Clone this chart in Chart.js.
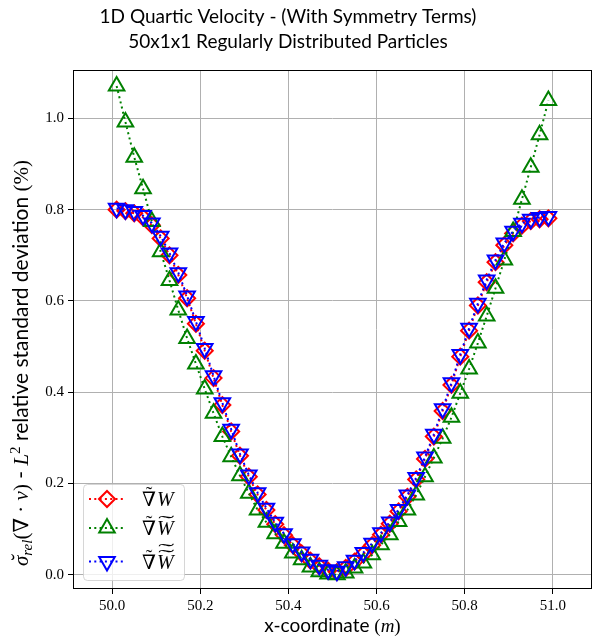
<!DOCTYPE html>
<html>
<head>
<meta charset="utf-8">
<script src="https://cdn.jsdelivr.net/npm/chart.js@4.4.1/dist/chart.umd.min.js"></script>
<style>
  html, body { margin: 0; padding: 0; background: #fff; }
</style>
</head>
<body>
<canvas id="chart" width="603" height="643"></canvas>
<script>
const titleLines = ['1D Quartic Velocity - (With Symmetry Terms)', '50x1x1 Regularly Distributed Particles'];
const legendLabels = ['\u2207\u0303W', '\u2207\u0303W\u0303', '\u2207\u0303W\u0303\u0303'];

const xTicks = [50.0, 50.2, 50.4, 50.6, 50.8, 51.0];
const yTicks = [0.0, 0.2, 0.4, 0.6, 0.8, 1.0];

const xCoords = [
    50.01, 50.03, 50.05, 50.07, 50.09, 50.11, 50.13, 50.15, 50.17, 50.19,
    50.21, 50.23, 50.25, 50.27, 50.29, 50.31, 50.33, 50.35, 50.37, 50.39,
    50.41, 50.43, 50.45, 50.47, 50.49, 50.51, 50.53, 50.55, 50.57, 50.59,
    50.61, 50.63, 50.65, 50.67, 50.69, 50.71, 50.73, 50.75, 50.77, 50.79,
    50.81, 50.83, 50.85, 50.87, 50.89, 50.91, 50.93, 50.95, 50.97, 50.99
];

// red diamonds
const devGradW = [
    0.800, 0.797, 0.792, 0.783, 0.766, 0.737, 0.700, 0.657, 0.606, 0.550,
    0.491, 0.431, 0.372, 0.314, 0.261, 0.215, 0.176, 0.142, 0.111, 0.087,
    0.065, 0.047, 0.031, 0.019, 0.009, 0.006, 0.015, 0.029, 0.045, 0.065,
    0.088, 0.112, 0.139, 0.171, 0.209, 0.254, 0.303, 0.359, 0.416, 0.478,
    0.535, 0.590, 0.641, 0.685, 0.722, 0.748, 0.765, 0.775, 0.779, 0.781
];

// green up triangles
const devGradWW = [
    1.071, 0.992, 0.915, 0.846, 0.774, 0.708, 0.645, 0.580, 0.518, 0.462,
    0.407, 0.354, 0.303, 0.259, 0.217, 0.179, 0.142, 0.115, 0.090, 0.069,
    0.048, 0.033, 0.017, 0.007, 0.002, 0.000, 0.004, 0.015, 0.026, 0.044,
    0.066, 0.088, 0.117, 0.142, 0.175, 0.215, 0.256, 0.299, 0.345, 0.398,
    0.451, 0.508, 0.567, 0.628, 0.690, 0.752, 0.823, 0.893, 0.964, 1.039
];

// blue down triangles
const devGradWWW = [
    0.803, 0.800, 0.796, 0.787, 0.771, 0.742, 0.705, 0.662, 0.611, 0.555,
    0.496, 0.436, 0.377, 0.319, 0.265, 0.219, 0.180, 0.146, 0.115, 0.090,
    0.068, 0.050, 0.034, 0.021, 0.011, 0.008, 0.018, 0.032, 0.049, 0.069,
    0.092, 0.116, 0.143, 0.175, 0.213, 0.258, 0.308, 0.364, 0.421, 0.483,
    0.540, 0.595, 0.646, 0.690, 0.727, 0.753, 0.770, 0.779, 0.783, 0.785
];

const serif = '"Liberation Serif", "DejaVu Serif", serif';
const sans = 'Lato, "DejaVu Sans", sans-serif';
const dots = [2, 3.3];

const seriesStyles = [
    { color: '#ff0000', style: 'rectRot', radius: 8, rotation: 0 },
    { color: '#008000', style: 'triangle', radius: 9, rotation: 0 },
    { color: '#0000ff', style: 'triangle', radius: 9, rotation: 180 }
];

function points(ys) {
    return xCoords.map((x, i) => ({ x: x, y: ys[i] }));
}

function runsWidth(ctx, runs) {
    let w = 0;
    runs.forEach(r => { ctx.font = r.f; w += ctx.measureText(r.t).width; });
    return w;
}

function drawRuns(ctx, runs, x, y) {
    let cx = x;
    runs.forEach(r => {
        ctx.font = r.f;
        const w = ctx.measureText(r.t).width;
        ctx.fillText(r.t, cx, y + (r.dy || 0));
        if (r.accent) {
            ctx.textAlign = 'center';
            ctx.fillText(r.accent, cx + w / 2 + 2, y + (r.dy || 0) - 2);
            ctx.textAlign = 'left';
        }
        cx += w;
    });
}

function drawMarker(ctx, s, x, y) {
    ctx.beginPath();
    if (s.style === 'rectRot') {
        ctx.moveTo(x - s.radius, y);
        ctx.lineTo(x, y - s.radius);
        ctx.lineTo(x + s.radius, y);
        ctx.lineTo(x, y + s.radius);
    } else {
        let rad = s.rotation * Math.PI / 180;
        for (let k = 0; k < 3; k++) {
            const px = x + Math.sin(rad) * s.radius;
            const py = y - Math.cos(rad) * s.radius;
            if (k === 0) ctx.moveTo(px, py); else ctx.lineTo(px, py);
            rad += 2 * Math.PI / 3;
        }
    }
    ctx.closePath();
    ctx.stroke();
}

const overlay = {
    id: 'overlay',
    afterDatasetsDraw(chart) {
        const ctx = chart.ctx;
        const a = chart.chartArea;
        ctx.save();

        // frame
        ctx.strokeStyle = '#000';
        ctx.lineWidth = 1;
        ctx.setLineDash([]);
        ctx.strokeRect(Math.round(a.left) + 0.5, Math.round(a.top) + 0.5,
            Math.round(a.right - a.left) - 1, Math.round(a.bottom - a.top) - 1);

        // legend
        const bx = a.left + 10, by = a.bottom - 105, bw = 101, bh = 96;
        ctx.beginPath();
        if (ctx.roundRect) ctx.roundRect(bx + 0.5, by + 0.5, bw, bh, 4); else ctx.rect(bx + 0.5, by + 0.5, bw, bh);
        ctx.fillStyle = 'rgba(255,255,255,0.8)';
        ctx.fill();
        ctx.strokeStyle = 'rgba(204,204,204,0.8)';
        ctx.lineWidth = 1;
        ctx.stroke();

        const rows = [by + 15, by + 44, by + 77.5];
        seriesStyles.forEach((s, i) => {
            const ry = rows[i];
            ctx.strokeStyle = s.color;
            ctx.lineWidth = 2;
            ctx.setLineDash(dots);
            ctx.beginPath();
            ctx.moveTo(bx + 6, ry);
            ctx.lineTo(bx + 40, ry);
            ctx.stroke();
            ctx.setLineDash([]);
            drawMarker(ctx, s, bx + 24, ry);

            // label: nabla with tilde, W with 0..2 wide tildes
            ctx.fillStyle = '#000';
            ctx.textBaseline = 'alphabetic';
            const lx = bx + 59, base = ry + 7;
            ctx.font = `20px ${serif}`;
            const nw = ctx.measureText('\u2207').width;
            ctx.fillText('\u2207', lx, base);
            ctx.font = `italic 20px ${serif}`;
            ctx.fillText('W', lx + nw + 1, base);
            const ww = ctx.measureText('W').width;
            ctx.font = `20px ${serif}`;
            ctx.textAlign = 'center';
            ctx.fillText('\u02dc', lx + nw / 2, base - 5);
            for (let k = 0; k < i; k++) {
                ctx.save();
                ctx.translate(lx + nw + 2 + ww / 2, base - 5 - k * 6);
                ctx.scale(2.4, 1);
                ctx.fillText('\u02dc', 0, 0);
                ctx.restore();
            }
            ctx.textAlign = 'left';
        });

        // x axis title
        ctx.fillStyle = '#000';
        ctx.textBaseline = 'alphabetic';
        const xRuns = [
            { t: 'x-coordinate ', f: `19px ${sans}` },
            { t: '(', f: `19px ${serif}` },
            { t: 'm', f: `italic 19px ${serif}` },
            { t: ')', f: `19px ${serif}` }
        ];
        const xw = runsWidth(ctx, xRuns);
        drawRuns(ctx, xRuns, (a.left + a.right) / 2 - xw / 2, 632);

        // y axis title
        const yRuns = [
            { t: '\u03c3', f: `italic 21px ${serif}`, accent: '\u02d8' },
            { t: 'rel', f: `italic 15px ${serif}`, dy: 4 },
            { t: '(\u2207 \u00b7 ', f: `21px ${serif}` },
            { t: 'v', f: `italic 21px ${serif}` },
            { t: ')', f: `21px ${serif}` },
            { t: ' - ', f: `21px ${sans}` },
            { t: 'L', f: `italic 21px ${serif}` },
            { t: '2', f: `15px ${serif}`, dy: -8 },
            { t: ' relative standard deviation ', f: `21px ${sans}` },
            { t: '(%)', f: `21px ${serif}` }
        ];
        const yw = runsWidth(ctx, yRuns);
        ctx.save();
        ctx.translate(28, 363);
        ctx.rotate(-Math.PI / 2);
        drawRuns(ctx, yRuns, -yw / 2, 0);
        ctx.restore();

        // title
        ctx.font = `19px ${sans}`;
        ctx.textAlign = 'center';
        ctx.textBaseline = 'middle';
        ctx.fillText(titleLines[0], 288, 17);
        ctx.fillText(titleLines[1], 288, 42);

        ctx.restore();
    }
};

const datasets = [devGradW, devGradWW, devGradWWW].map((ys, i) => {
    const s = seriesStyles[i];
    return {
        label: legendLabels[i],
        data: points(ys),
        borderColor: s.color,
        borderWidth: 2,
        borderDash: dots,
        backgroundColor: 'rgba(0,0,0,0)',
        pointStyle: s.style,
        pointRotation: s.rotation,
        pointRadius: s.radius,
        pointBorderWidth: 2,
        pointBorderColor: s.color,
        pointBackgroundColor: 'rgba(0,0,0,0)',
        tension: 0,
        fill: false,
        order: 2 - i
    };
});

new Chart(document.getElementById('chart'), {
    type: 'line',
    data: { datasets: datasets },
    options: {
        responsive: false,
        animation: false,
        devicePixelRatio: 1,
        layout: { padding: { top: 70, right: 7, bottom: 0, left: 0 } },
        plugins: {
            legend: { display: false },
            title: { display: false },
            tooltip: { enabled: false }
        },
        scales: {
            x: {
                type: 'linear',
                min: 49.911,
                max: 51.089,
                afterBuildTicks: s => { s.ticks = xTicks.map(v => ({ value: v })); },
                afterFit: s => { s.height = 54; },
                border: { display: false },
                grid: { color: '#b0b0b0', lineWidth: 1, tickColor: '#000', tickLength: 5 },
                ticks: {
                    color: '#000',
                    padding: 3,
                    maxRotation: 0,
                    font: { family: serif, size: 15 },
                    callback: v => v.toFixed(1)
                }
            },
            y: {
                type: 'linear',
                min: -0.031,
                max: 1.106,
                afterBuildTicks: s => { s.ticks = yTicks.map(v => ({ value: v })); },
                afterFit: s => { s.width = 73; },
                border: { display: false },
                grid: { color: '#b0b0b0', lineWidth: 1, tickColor: '#000', tickLength: 5 },
                ticks: {
                    color: '#000',
                    padding: 4,
                    font: { family: serif, size: 15 },
                    callback: v => v.toFixed(1)
                }
            }
        }
    },
    plugins: [overlay]
});
</script>
</body>
</html>
